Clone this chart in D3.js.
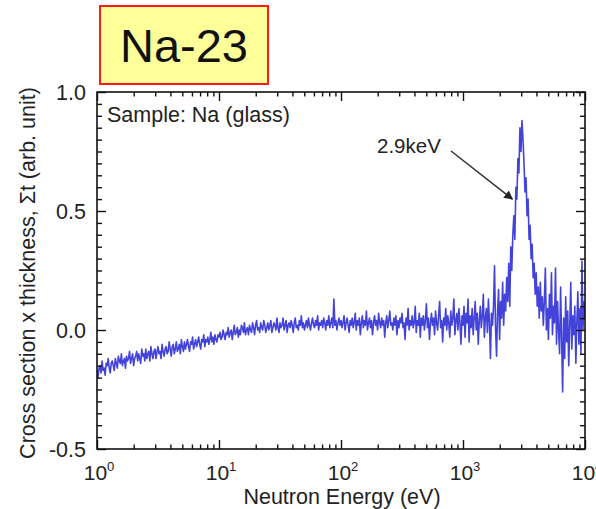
<!DOCTYPE html>
<html>
<head>
<meta charset="utf-8">
<script src="https://cdn.jsdelivr.net/npm/d3@7"></script>
<style>
  html, body { margin: 0; padding: 0; background: #fff; }
  svg { display: block; font-family: "Liberation Sans", Arial, sans-serif; }
</style>
</head>
<body>
<svg id="chart" width="596" height="509"></svg>
<script>
// Measured cross section x thickness for a Na (glass) sample,
// sampled on a logarithmic energy grid from 1 eV to 10 keV.
const energyMin = 1;          // eV
const binsPerDecade = 120;

const sigmaT = [
  // 1 - 10 eV
  -0.17,-0.20,-0.16,-0.15,-0.18,-0.13,-0.17,-0.16,-0.19,-0.14,
  -0.15,-0.12,-0.16,-0.18,-0.14,-0.13,-0.15,-0.17,-0.12,-0.14,
  -0.16,-0.11,-0.13,-0.14,-0.10,-0.15,-0.13,-0.12,-0.16,-0.11,
  -0.13,-0.12,-0.09,-0.14,-0.12,-0.10,-0.15,-0.12,-0.11,-0.09,
  -0.13,-0.10,-0.12,-0.14,-0.08,-0.11,-0.10,-0.13,-0.08,-0.12,
  -0.10,-0.09,-0.13,-0.07,-0.10,-0.12,-0.09,-0.08,-0.12,-0.09,
  -0.07,-0.10,-0.09,-0.12,-0.06,-0.09,-0.11,-0.08,-0.07,-0.10,
  -0.09,-0.05,-0.08,-0.11,-0.07,-0.06,-0.10,-0.08,-0.05,-0.09,
  -0.08,-0.06,-0.10,-0.04,-0.07,-0.09,-0.05,-0.08,-0.06,-0.04,
  -0.07,-0.09,-0.05,-0.06,-0.03,-0.08,-0.06,-0.04,-0.07,-0.05,
  -0.03,-0.06,-0.08,-0.04,-0.05,-0.02,-0.07,-0.04,-0.05,-0.03,
  -0.06,-0.04,-0.01,-0.05,-0.03,-0.06,-0.02,-0.04,-0.05,-0.02,
  // 10 - 100 eV
  -0.03,-0.01,-0.04,-0.03,0.00,-0.02,-0.04,-0.01,-0.02,0.01,
  -0.03,-0.01,0.00,-0.04,-0.01,0.02,-0.02,-0.01,0.01,-0.03,
  0.00,-0.02,0.02,0.01,-0.01,0.03,-0.02,0.00,0.01,-0.02,
  0.02,0.00,-0.01,0.03,0.01,-0.02,0.02,0.04,0.00,0.01,
  -0.01,0.03,0.01,0.00,0.04,0.02,-0.01,0.01,0.03,0.00,
  0.02,0.04,-0.01,0.01,0.03,0.02,0.00,0.05,0.01,-0.01,
  0.03,0.01,0.02,0.05,0.00,0.02,0.04,-0.01,0.02,0.03,
  0.01,0.04,0.02,-0.01,0.03,0.05,0.01,0.02,0.00,0.04,
  0.02,0.06,0.01,0.03,0.00,0.02,0.04,0.01,0.05,0.02,
  0.00,0.03,0.05,0.02,0.01,0.04,0.02,0.06,0.00,0.03,
  0.02,0.04,0.01,0.05,0.03,0.00,0.04,0.02,0.06,0.01,
  0.03,0.05,0.01,0.13,0.02,0.04,0.00,0.03,0.05,0.02,
  // 100 eV - 1 keV
  0.04,0.01,0.03,0.06,0.00,0.03,0.05,0.02,-0.01,0.04,
  0.02,0.05,0.01,0.03,0.07,0.00,0.04,0.02,0.05,-0.02,
  0.03,0.06,0.01,0.04,0.02,0.08,0.00,0.03,0.05,0.01,
  0.04,-0.02,0.03,0.06,0.02,0.04,0.00,0.07,0.03,0.01,
  0.05,0.02,0.04,-0.03,0.03,0.06,0.01,0.04,0.08,0.02,
  0.03,0.00,0.05,0.02,0.06,-0.02,0.04,0.01,0.05,0.03,
  0.07,0.01,0.03,-0.04,0.05,0.02,0.09,0.00,0.04,0.02,
  0.06,0.01,0.03,0.10,-0.01,0.04,0.02,0.07,-0.03,0.05,
  0.02,0.06,0.00,0.04,0.11,0.01,0.05,-0.04,0.03,0.07,
  0.02,0.05,-0.02,0.08,0.03,0.00,0.06,0.12,0.01,0.04,
  -0.05,0.05,0.02,0.09,0.00,0.06,0.03,-0.03,0.08,0.02,
  0.05,0.13,-0.02,0.04,0.07,0.00,0.09,0.03,-0.06,0.06,
  // 1 keV - 10 keV (2.9 keV resonance)
  0.02,0.10,-0.03,0.07,0.03,0.13,-0.05,0.06,0.01,0.09,
  -0.02,0.05,0.12,0.00,0.07,-0.06,0.04,0.10,0.01,0.06,
  0.15,-0.03,0.05,0.09,-0.01,0.13,0.03,-0.12,0.07,0.02,
  0.10,0.27,0.01,-0.11,0.08,0.17,-0.04,0.12,0.05,0.20,
  0.02,0.15,0.08,0.22,0.12,0.28,0.10,0.35,0.25,0.40,
  0.48,0.38,0.60,0.55,0.72,0.66,0.85,0.75,0.88,0.80,
  0.70,0.58,0.64,0.48,0.55,0.38,0.44,0.30,0.36,0.22,
  0.28,0.15,0.24,0.10,0.18,0.05,0.20,0.08,0.14,0.02,
  0.12,0.26,0.00,0.09,-0.04,0.15,0.05,0.24,-0.02,0.10,
  0.03,0.26,-0.06,0.12,0.00,-0.10,0.18,-0.03,-0.26,0.05,
  -0.12,0.14,-0.05,0.08,-0.15,0.02,0.20,-0.08,0.06,-0.02,
  0.10,-0.14,0.04,0.16,-0.06,0.09,-0.10,0.29,0.00,0.12,0.05
];

const xTickValues = [1, 10, 100, 1000, 10000];
const xTickExponents = ["0", "1", "2", "3", "4"];
const yTickValues = [-0.5, 0.0, 0.5, 1.0];
const yTickLabels = ["-0.5", "0.0", "0.5", "1.0"];

const titleText = "Na-23";
const sampleText = "Sample: Na (glass)";
const peakLabel = "2.9keV";
const peakEnergy = 2900;
const xTitle = "Neutron Energy (eV)";
const yTitle = "Cross section x thickness, \u03A3t (arb. unit)";

const points = sigmaT.map((v, i) => ({ e: energyMin * Math.pow(10, i / binsPerDecade), v }));

const svg = d3.select("#chart");
const plot = { left: 97, right: 585, top: 92, bottom: 449 };

const x = d3.scaleLog().domain([1, 1e4]).range([plot.left, plot.right]);
const y = d3.scaleLinear().domain([-0.5, 1.0]).range([plot.bottom, plot.top]);

// Title box
const tb = svg.append("g");
tb.append("rect").attr("x", 100).attr("y", 6).attr("width", 168).attr("height", 78)
  .attr("fill", "#ffff99").attr("stroke", "#ff1a1a").attr("stroke-width", 2);
tb.append("text").attr("x", 184).attr("y", 62).attr("text-anchor", "middle")
  .attr("font-size", 47).attr("fill", "#111").text(titleText);

// Data line
svg.append("clipPath").attr("id", "clip").append("rect")
  .attr("x", plot.left).attr("y", plot.top)
  .attr("width", plot.right - plot.left).attr("height", plot.bottom - plot.top);

const line = d3.line().x(d => x(d.e)).y(d => y(d.v));
svg.append("path").datum(points)
  .attr("clip-path", "url(#clip)")
  .attr("fill", "none").attr("stroke", "#2f2fd6").attr("stroke-width", 1.6)
  .attr("stroke-linejoin", "round").attr("opacity", 0.9)
  .attr("d", line);

// Minor tick values
const xMinor = [];
[1, 10, 100, 1000].forEach(d => { for (let k = 2; k <= 9; k++) xMinor.push(d * k); });
const yMinor = d3.range(-0.5, 1.0001, 0.05).map(v => +v.toFixed(2)).filter(v => !yTickValues.includes(v));

function axisGroup(axis, tx, ty) {
  const g = svg.append("g").attr("transform", `translate(${tx},${ty})`).call(axis);
  g.select(".domain").remove();
  g.selectAll(".tick line").attr("stroke", "#111").attr("stroke-width", 1.4);
  g.selectAll(".tick text").remove();
  return g;
}

// Inward ticks on all four sides
axisGroup(d3.axisBottom(x).tickValues(xTickValues).tickSize(-9), 0, plot.bottom);
axisGroup(d3.axisBottom(x).tickValues(xMinor).tickSize(-4.5), 0, plot.bottom);
axisGroup(d3.axisTop(x).tickValues(xTickValues).tickSize(-9), 0, plot.top);
axisGroup(d3.axisTop(x).tickValues(xMinor).tickSize(-4.5), 0, plot.top);
axisGroup(d3.axisLeft(y).tickValues(yTickValues).tickSize(-9), plot.left, 0);
axisGroup(d3.axisLeft(y).tickValues(yMinor).tickSize(-5), plot.left, 0);
axisGroup(d3.axisRight(y).tickValues(yTickValues).tickSize(-9), plot.right, 0);
axisGroup(d3.axisRight(y).tickValues(yMinor).tickSize(-5), plot.right, 0);

// Frame
svg.append("rect").attr("x", plot.left).attr("y", plot.top)
  .attr("width", plot.right - plot.left).attr("height", plot.bottom - plot.top)
  .attr("fill", "none").attr("stroke", "#111").attr("stroke-width", 1.6);

// Y tick labels
svg.append("g").selectAll("text").data(yTickValues).join("text")
  .attr("x", 86).attr("y", d => y(d) + 7.5)
  .attr("text-anchor", "end").attr("font-size", 21.5).attr("fill", "#222")
  .text((d, i) => yTickLabels[i]);

// X tick labels (powers of ten)
const xl = svg.append("g").selectAll("text").data(xTickValues).join("text")
  .attr("x", d => x(d) + 2).attr("y", 480)
  .attr("text-anchor", "middle").attr("font-size", 21).attr("fill", "#222");
xl.append("tspan").text("10");
xl.append("tspan").attr("dy", -9).attr("font-size", 13).text((d, i) => xTickExponents[i]);

// Axis titles
svg.append("text").attr("x", (plot.left + plot.right) / 2 + 1).attr("y", 504)
  .attr("text-anchor", "middle").attr("font-size", 21.5).attr("fill", "#222").text(xTitle);
svg.append("text").attr("transform", "translate(35,273) rotate(-90)")
  .attr("text-anchor", "middle").attr("font-size", 21.5).attr("fill", "#222").text(yTitle);

// Sample note
svg.append("text").attr("x", 107).attr("y", 122).attr("font-size", 21.5)
  .attr("fill", "#222").text(sampleText);

// Resonance annotation
svg.append("defs").append("marker").attr("id", "arrow")
  .attr("viewBox", "0 0 10 10").attr("refX", 9).attr("refY", 5)
  .attr("markerWidth", 9).attr("markerHeight", 9).attr("markerUnits", "userSpaceOnUse")
  .attr("orient", "auto")
  .append("path").attr("d", "M0,0 L10,5 L0,10 Z").attr("fill", "#222");
svg.append("text").attr("x", 377).attr("y", 153).attr("font-size", 20.5)
  .attr("fill", "#222").text(peakLabel);
svg.append("line").attr("x1", 451).attr("y1", 151)
  .attr("x2", x(peakEnergy) - 7).attr("y2", y(0.55))
  .attr("stroke", "#333").attr("stroke-width", 1.5).attr("marker-end", "url(#arrow)");
</script>
</body>
</html>
